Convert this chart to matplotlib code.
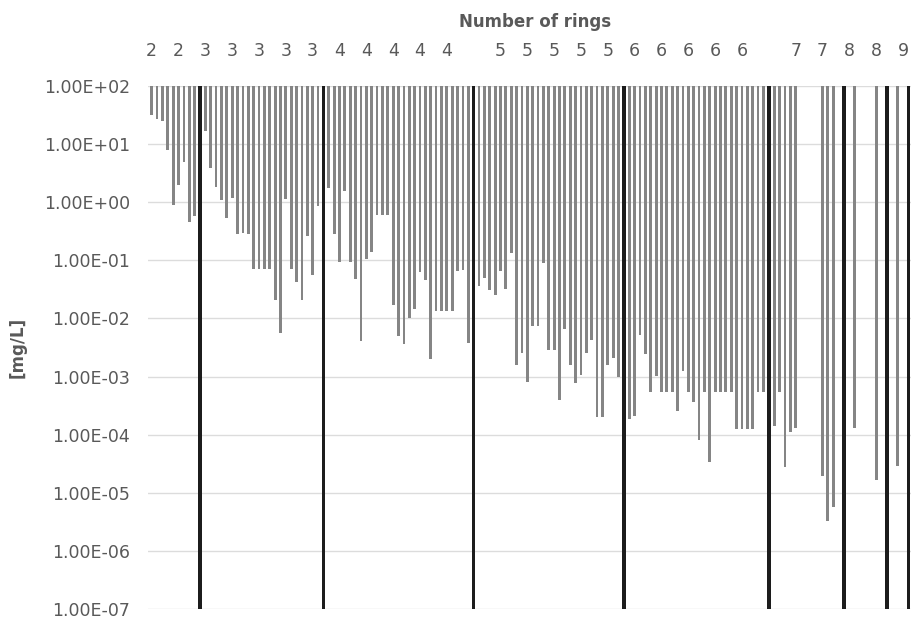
import matplotlib
matplotlib.use("Agg")
import matplotlib.pyplot as plt
import numpy as np
from matplotlib.ticker import FixedLocator, FuncFormatter, NullLocator

# ---- data (concentrations in mg/L, grouped by number of rings) ----
ring_numbers = [2, 3, 4, 5, 6, 7, 8, 9]

ring2 = [31.6, 27, 24.5, 7.9, 0.91, 2.0, 4.9, 0.45, 0.58]
ring3 = [16.5, 3.9, 1.8, 1.1, 0.54, 1.2, 0.28, 0.30, 0.28, 0.072, 0.072,
         0.072, 0.072, 0.021, 0.0057, 1.15, 0.072, 0.043, 0.021, 0.26,
         0.056, 0.85]
ring4 = [1.76, 0.28, 0.093, 1.58, 0.093, 0.047, 0.0041, 0.105, 0.14, 0.61,
         0.61, 0.61, 0.017, 0.0049, 0.0036, 0.010, 0.0145, 0.063, 0.045,
         0.0020, 0.0135, 0.0135, 0.0135, 0.0135, 0.066, 0.068, 0.0038]
ring5 = [0.036, 0.049, 0.031, 0.025, 0.066, 0.032, 0.135, 0.00155, 0.0025,
         0.0008, 0.0074, 0.0074, 0.09, 0.0029, 0.0029, 0.00039, 0.0066,
         0.0016, 0.00077, 0.00107, 0.0025, 0.0043, 0.0002, 0.0002, 0.0016,
         0.0021, 0.001]
ring6 = [0.000187, 0.00021, 0.0051, 0.0024, 0.00055, 0.00104, 0.00055,
         0.00055, 0.00055, 0.00026, 0.00126, 0.00055, 0.00036, 0.00008,
         0.00055, 0.0000345, 0.00055, 0.00055, 0.00055, 0.00055, 0.000123,
         0.000123, 0.000123, 0.000123, 0.00055, 0.00055]
ring7 = [0.00014, 0.00055, 0.000028, 0.000112, 0.00013, None, None, None,
         None, 1.95e-5, 3.3e-6, 5.6e-6, None]
ring8 = [None, 1.28e-4, None, None, None, 1.65e-5, None]
ring9 = [None, 2.9e-5, None]

groups = [ring2, ring3, ring4, ring5, ring6, ring7, ring8, ring9]

y_top = 1e2
y_bottom = 1e-7
label_every = 5

# ---- build category sequence: compounds + a separator after each group ----
values, kinds, cat_labels = [], [], []
for rn, grp in zip(ring_numbers, groups):
    for v in grp:
        values.append(v)
        kinds.append("data")
        cat_labels.append(str(rn))
    values.append(y_bottom)
    kinds.append("sep")
    cat_labels.append("")

n = len(values)
x = np.arange(n)

fig = plt.figure(figsize=(9.11, 6.19), dpi=100)
W, H = 911, 619
ax = fig.add_axes([148 / W, (H - 609) / H, (W - 148) / W, (609 - 86) / H])

gray_x = [i for i in x if kinds[i] == "data" and values[i] is not None]
gray_v = [values[i] for i in gray_x]
sep_x = [i for i in x if kinds[i] == "sep"]
sep_v = [values[i] for i in sep_x]

ax.bar(gray_x, [y_top - v for v in gray_v], bottom=gray_v, width=0.52,
       color="#858585", edgecolor="none", zorder=2)
ax.bar(sep_x, [y_top - v for v in sep_v], bottom=sep_v, width=0.66,
       color="#1c1c1c", edgecolor="none", zorder=3)

ax.set_yscale("log")
ax.set_ylim(y_bottom, y_top)
ax.set_xlim(-0.69, 141.5)

ax.yaxis.set_major_locator(FixedLocator([10.0 ** k for k in range(-7, 3)]))
ax.yaxis.set_minor_locator(NullLocator())
ax.yaxis.set_major_formatter(FuncFormatter(lambda v, p: f"{v:.2E}"))
ax.grid(axis="y", color="#dcdcdc", linewidth=1.0, zorder=0)
ax.set_axisbelow(True)

tick_pos = list(range(0, n, label_every))
ax.xaxis.tick_top()
ax.set_xticks(tick_pos)
ax.set_xticklabels([cat_labels[i] for i in tick_pos])
ax.tick_params(axis="x", length=0, pad=19, labelsize=12.5, colors="#595959")
ax.tick_params(axis="y", length=0, pad=13, labelsize=12.5, colors="#595959")

for s in ax.spines.values():
    s.set_visible(False)

fig.text(535 / W, 1 - 22 / H, "Number of rings", ha="center", va="center",
         fontsize=12, fontweight="bold", color="#595959")
fig.text(18 / W, 1 - 347 / H, "[mg/L]", ha="center", va="center",
         rotation=90, fontsize=12, fontweight="bold", color="#595959")

fig.savefig("out.png", dpi=100)
